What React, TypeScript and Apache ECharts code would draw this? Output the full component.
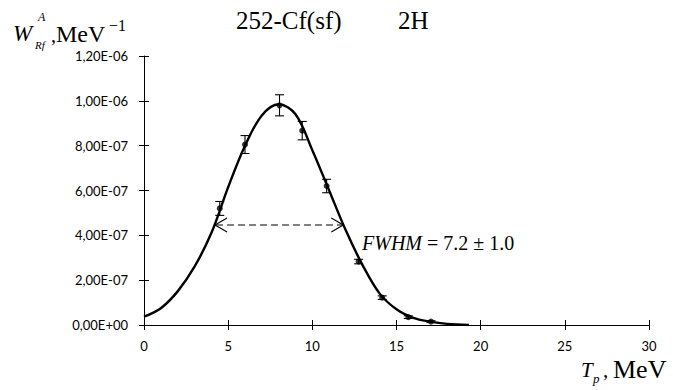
import React, { useEffect, useRef } from "react";
import * as echarts from "echarts";

// ---- data ----
const xTicks = [0, 5, 10, 15, 20, 25, 30];
const yTickLabels = ["0,00E+00", "2,00E-07", "4,00E-07", "6,00E-07", "8,00E-07", "1,00E-06", "1,20E-06"];

// fitted curve
const curveX = [0, 1, 2, 3, 4, 5, 6, 7, 8, 9, 10, 11, 12, 13, 14, 15, 16, 17, 18, 19.3];
const curveY = [3.7e-8, 7.5e-8, 1.5e-7, 2.6e-7, 4.1e-7, 6.15e-7, 8.0e-7, 9.35e-7, 9.85e-7, 9.4e-7, 7.8e-7, 6.0e-7, 4.2e-7, 2.65e-7, 1.4e-7, 7.0e-8, 3.2e-8, 1.5e-8, 5e-9, 0];

// measured points with error bars
const pointX = [4.5, 6.0, 8.05, 9.4, 10.85, 12.75, 14.15, 15.7, 17.05];
const pointY = [5.2e-7, 8.05e-7, 9.8e-7, 8.67e-7, 6.2e-7, 2.83e-7, 1.22e-7, 3.5e-8, 1.5e-8];
const pointErr = [3.1e-8, 4.0e-8, 4.7e-8, 4.1e-8, 3.0e-8, 1.0e-8, 8e-9, 6e-9, 4e-9];

// FWHM marker
const fwhmLeft = 4.22;
const fwhmRight = 11.84;
const fwhmLevel = 4.46e-7;

const titleLeft = "252-Cf(sf)";
const titleRight = "2H";
const fwhmLabel = "7.2 ± 1.0";

const SERIF = "'Liberation Serif', 'Times New Roman', serif";
const SANS = "Lato, 'Open Sans', sans-serif";

function txt(x: number, y: number, text: string, size: number, opts: any = {}) {
  return {
    type: "text",
    x,
    y,
    style: {
      text,
      fontFamily: SERIF,
      fontStyle: opts.italic ? "italic" : "normal",
      fontWeight: "normal",
      fontSize: size,
      fill: "#000",
      verticalAlign: "middle",
    },
  };
}

export default function App() {
  const ref = useRef<HTMLDivElement>(null);

  useEffect(() => {
    if (!ref.current) return;
    const chart = echarts.init(ref.current, null, { renderer: "svg" });

    const axisCommon = { min: 0, max: 30, interval: 5 };

    const option: any = {
      animation: false,
      backgroundColor: "#ffffff",
      grid: { left: 144, right: 24, top: 56, bottom: 65, containLabel: false },
      xAxis: [
        {
          type: "value",
          ...axisCommon,
          position: "bottom",
          axisLine: { show: true, onZero: false, lineStyle: { color: "#000", width: 1 } },
          axisTick: { show: true, inside: false, length: 5, lineStyle: { color: "#000", width: 1 } },
          axisLabel: {
            show: true,
            margin: 14,
            color: "#000",
            fontFamily: SANS,
            fontSize: 13,
            formatter: (v: number) => {
              const i = xTicks.indexOf(Math.round(v));
              return i >= 0 ? String(xTicks[i]) : "";
            },
          },
          splitLine: { show: false },
        },
        {
          type: "value",
          ...axisCommon,
          position: "bottom",
          axisLine: { show: false, onZero: false },
          axisTick: { show: true, inside: true, length: 5, lineStyle: { color: "#000", width: 1 } },
          axisLabel: { show: false },
          splitLine: { show: false },
        },
      ],
      yAxis: [
        {
          type: "value",
          min: 0,
          max: 1.2e-6,
          interval: 2e-7,
          position: "left",
          axisLine: { show: true, onZero: false, lineStyle: { color: "#000", width: 1 } },
          axisTick: { show: true, inside: false, length: 5, lineStyle: { color: "#000", width: 1 } },
          axisLabel: {
            show: true,
            margin: 16,
            color: "#000",
            fontFamily: SANS,
            fontSize: 13,
            formatter: (v: number) => {
              const i = Math.round(v / 2e-7);
              return yTickLabels[i] ?? "";
            },
          },
          splitLine: { show: false },
        },
        {
          type: "value",
          min: 0,
          max: 1.2e-6,
          interval: 2e-7,
          position: "left",
          axisLine: { show: false, onZero: false },
          axisTick: { show: true, inside: true, length: 5, lineStyle: { color: "#000", width: 1 } },
          axisLabel: { show: false },
          splitLine: { show: false },
        },
      ],
      series: [
        {
          type: "line",
          data: curveX.map((x, i) => [x, curveY[i]]),
          smooth: 0.35,
          showSymbol: false,
          symbol: "none",
          lineStyle: { color: "#000", width: 2.4 },
          z: 3,
        },
        {
          type: "custom",
          data: pointX.map((x, i) => [x, pointY[i], pointErr[i]]),
          encode: { x: 0, y: 1 },
          z: 4,
          renderItem: (params: any, api: any) => {
            const x = api.value(0);
            const y = api.value(1);
            const e = api.value(2);
            const top = api.coord([x, y + e]);
            const bot = api.coord([x, y - e]);
            const hw = 4.5;
            const st = { stroke: "#000", lineWidth: 1.1 };
            return {
              type: "group",
              children: [
                { type: "line", shape: { x1: top[0], y1: top[1], x2: bot[0], y2: bot[1] }, style: st },
                { type: "line", shape: { x1: top[0] - hw, y1: top[1], x2: top[0] + hw, y2: top[1] }, style: st },
                { type: "line", shape: { x1: bot[0] - hw, y1: bot[1], x2: bot[0] + hw, y2: bot[1] }, style: st },
              ],
            };
          },
        },
        {
          type: "scatter",
          data: pointX.map((x, i) => [x, pointY[i]]),
          symbol: "circle",
          symbolSize: 6,
          itemStyle: { color: "#000" },
          z: 5,
        },
        {
          type: "custom",
          data: [[fwhmLeft, fwhmRight, fwhmLevel]],
          encode: { x: [0, 1], y: 2 },
          z: 4,
          renderItem: (params: any, api: any) => {
            const p1 = api.coord([api.value(0), api.value(2)]);
            const p2 = api.coord([api.value(1), api.value(2)]);
            const al = 12;
            const ah = 7;
            const st = { stroke: "#000", lineWidth: 1.1, fill: null };
            return {
              type: "group",
              children: [
                {
                  type: "line",
                  shape: { x1: p1[0] + 1, y1: p1[1], x2: p2[0] - 1, y2: p2[1] },
                  style: { stroke: "#000", lineWidth: 1.1, lineDash: [7, 4] },
                },
                {
                  type: "polyline",
                  shape: { points: [[p1[0] + al, p1[1] - ah], [p1[0], p1[1]], [p1[0] + al, p1[1] + ah]] },
                  style: st,
                },
                {
                  type: "polyline",
                  shape: { points: [[p2[0] - al, p2[1] - ah], [p2[0], p2[1]], [p2[0] - al, p2[1] + ah]] },
                  style: st,
                },
              ],
            };
          },
        },
      ],
      graphic: [
        // title
        txt(236, 20, titleLeft, 25),
        txt(398, 20, titleRight, 25),
        // y-axis title: W_Rf^A , MeV^-1
        txt(13, 33, "W", 23, { italic: true }),
        txt(38, 17, "A", 12, { italic: true }),
        txt(35, 45, "Rf", 11, { italic: true }),
        txt(51, 35, ",", 20),
        txt(56, 34, "MeV", 24),
        txt(109, 25, "\u22121", 16),
        // x-axis title: T_p , MeV
        txt(581, 370, "T", 21, { italic: true }),
        txt(593, 378, "p", 13, { italic: true }),
        txt(603, 370, ",", 21),
        txt(613, 369, "MeV", 26),
        // FWHM annotation
        {
          type: "text",
          x: 362,
          y: 243,
          style: {
            text: "{i|FWHM}{r| = " + fwhmLabel + "}",
            verticalAlign: "middle",
            rich: {
              i: { fontFamily: SERIF, fontStyle: "italic", fontWeight: "normal", fontSize: 20, color: "#000" },
              r: { fontFamily: SERIF, fontStyle: "normal", fontWeight: "normal", fontSize: 20, color: "#000" },
            },
          },
        },
      ],
    };

    chart.setOption(option);
    return () => {
      chart.dispose();
    };
  }, []);

  return (
    <div
      ref={ref}
      style={{ position: "fixed", left: 0, top: 0, width: 673, height: 390, background: "#fff" }}
    />
  );
}
